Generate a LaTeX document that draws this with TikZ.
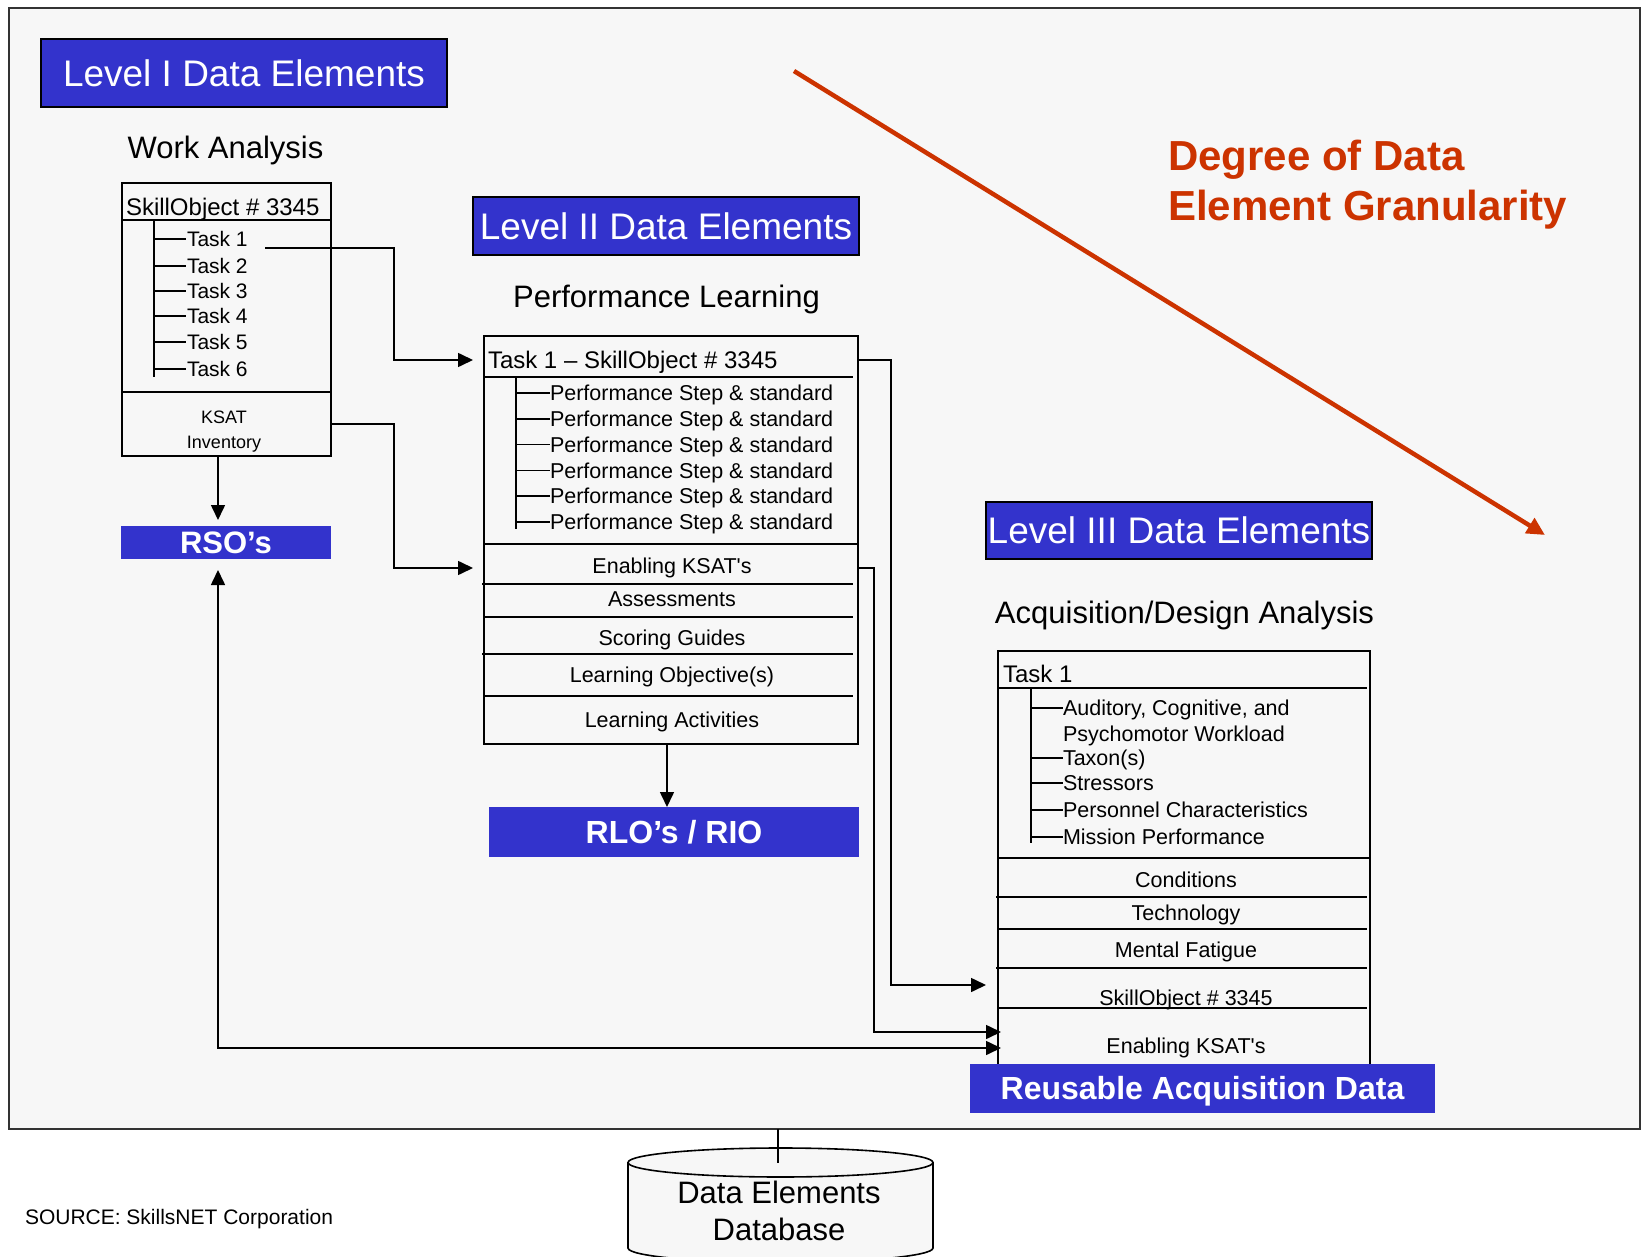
\documentclass[tikz,border=0pt]{standalone}
\usepackage{fontspec}
\setmainfont{Liberation Sans}
\usetikzlibrary{arrows.meta}
\definecolor{barblue}{RGB}{51,51,204}
\definecolor{granred}{RGB}{204,51,0}
\definecolor{panel}{RGB}{247,247,247}
\newcommand{\fsz}[1]{\fontsize{#1}{#1}\selectfont}

\begin{document}
\begin{tikzpicture}[x=1pt,y=-1pt,
  line width=1.6pt,
  every node/.style={inner sep=0pt, outer sep=0pt},
  levelbar/.style={draw=black, line width=1.8pt, fill=barblue, text=white,
    font=\fsz{37}, text height=26.5pt, text depth=0pt},
  outbar/.style={fill=barblue, text=white, font=\bfseries\fsz{32},
    text height=22.9pt, text depth=0pt},
  heading/.style={anchor=base, font=\fsz{31}},
  box/.style={draw=black, line width=1.8pt},
  hdr/.style={anchor=base west, font=\fsz{24}},
  item/.style={anchor=base west, font=\fsz{21.5}},
  row/.style={anchor=base, font=\fsz{21.5}},
  link/.style={line width=1.6pt, -{Triangle[length=15pt,width=14pt]}},
  twoway/.style={line width=1.6pt, {Triangle[length=15pt,width=14pt]}-{Triangle[length=15pt,width=14pt]}},
]
\useasboundingbox (0,0) rectangle (1642,1257);
\fill[white] (0,0) rectangle (1642,1257);

% outer panel
\node[draw=black!80, fill=panel, line width=1.6pt, minimum width=1631, minimum height=1121] (frame) at (824.5,568.5) {};

% ---------- Level I ----------
\node[levelbar, minimum width=406, minimum height=68] (lvI) at (244,73) {Level I Data Elements};
\node[heading] (wa) at (225.5,159) {Work Analysis};

\node[box, minimum width=209, minimum height=273] (so1) at (226.5,319.5) {};
\draw (so1.west |- 0,220) -- (so1.east |- 0,220);
\draw (so1.west |- 0,392) -- (so1.east |- 0,392);
\node[hdr] (so1h) at (126,216) {SkillObject \# 3345};
\draw (154,220) -- (154,377);
\foreach \y/\n in {239/1,266/2,291/3,316/4,342/5,369/6}{
  \draw (154,\y) -- (186,\y);
  \node[item, font=\fsz{21}] (t\n) at (187,\y+7.5) {Task \n};
}
\node[anchor=base, font=\fsz{18}] (ksat) at (224,423) {KSAT};
\node[anchor=base, font=\fsz{18}] (inv) at (224,448) {Inventory};

\node[outbar, font=\bfseries\fsz{31}, text height=22.2pt, minimum width=210, minimum height=33] (rso) at (226,542.5) {RSO’s};

% ---------- Level II ----------
\node[levelbar, minimum width=386, minimum height=58] (lvII) at (666,226) {Level II Data Elements};
\node[heading] (pl) at (666.5,308) {Performance Learning};

\node[box, minimum width=374, minimum height=408] (l2) at (671,540) {};
\node[hdr] (l2h) at (488,369) {Task 1 -- SkillObject \# 3345};
\draw (484,377) -- (853,377);
\draw (516,377) -- (516,529);
\foreach \y/\n in {393/1,418.8/2,444.6/3,470.4/4,496.2/5,522/6}{
  \draw (516,\y) -- (550,\y);
  \node[item] (ps\n) at (550,\y+7.7) {Performance Step \& standard};
}
\draw (484,544) -- (858,544);
\draw (482,584) -- (853,584);
\draw (484,617) -- (853,617);
\draw (482,654) -- (853,654);
\draw (484,696) -- (853,696);
\node[row] (eks2) at (672,573) {Enabling KSAT\textquotesingle s};
\node[row] (asm) at (672,606) {Assessments};
\node[row] (scg) at (672,645) {Scoring Guides};
\node[row] (lob) at (672,682) {Learning Objective(s)};
\node[row] (lac) at (672,727) {Learning Activities};

\node[outbar, minimum width=370, minimum height=50] (rlo) at (674,832) {RLO’s / RIO};

% ---------- Level III ----------
\node[levelbar, minimum width=386, minimum height=57] (lvIII) at (1179,530.5) {Level III Data Elements};
\node[heading] (ada) at (1184.5,623) {Acquisition/Design Analysis};

\node[box, minimum width=372, minimum height=418] (l3) at (1184,860) {};
\node[hdr] (l3h) at (1003,682) {Task 1};
\draw (998,688) -- (1367,688);
\draw (1031,688) -- (1031,843);
\foreach \y in {708,758,783,810,837}{ \draw (1031,\y) -- (1063,\y); }
\node[item] (acw) at (1063,715.7) {Auditory, Cognitive, and};
\node[item] (psw) at (1063,741.2) {Psychomotor Workload};
\node[item] (tax) at (1063,765.7) {Taxon(s)};
\node[item] (str) at (1063,790.7) {Stressors};
\node[item] (pch) at (1063,817.7) {Personnel Characteristics};
\node[item] (mpf) at (1063,844.7) {Mission Performance};
\draw (998,858) -- (1370,858);
\draw (996,897) -- (1367,897);
\draw (998,929) -- (1367,929);
\draw (996,968) -- (1367,968);
\draw (998,1008) -- (1367,1008);
\node[row] (cnd) at (1186,887) {Conditions};
\node[row] (tec) at (1186,920) {Technology};
\node[row] (mft) at (1186,957) {Mental Fatigue};
\node[row] (so3) at (1186,1005) {SkillObject \# 3345};
\node[row] (eks3) at (1186,1053) {Enabling KSAT\textquotesingle s};

\node[outbar, minimum width=465, minimum height=49] (rad) at (1202.5,1088.5) {Reusable Acquisition Data};

% ---------- connectors ----------
\coordinate (a1) at (265,248);
\coordinate (k1) at (394,360);
\draw[link, shorten >=11pt] (a1) -| (k1) -- (l2.west |- k1);

\coordinate (b1) at (394,424);
\coordinate (b2) at (394,568);
\draw[link, shorten >=11pt] (so1.east |- b1) -- (b1) -- (b2) -- (l2.west |- b2);

\coordinate (r0) at (218,0);
\draw[link, shorten >=6pt] (so1.south -| r0) -- (rso.north -| r0);

\coordinate (r1) at (667,0);
\draw[link] (l2.south -| r1) -- (rlo.north -| r1);

\coordinate (c1) at (891,360);
\coordinate (c1b) at (891,985);
\draw[link, shorten >=12pt] (l2.east |- c1) -- (c1) -- (c1b) -- (l3.west |- c1b);

\coordinate (c2) at (874,568);
\coordinate (c2b) at (874,1032);
\draw[link, shorten >=-3pt] (l2.east |- c2) -- (c2) -- (c2b) -- (l3.west |- c2b);

\coordinate (c3) at (218,1048);
\draw[twoway, shorten <=11pt, shorten >=-3pt] (rso.south -| c3) -- (c3) -- (l3.west |- c3);

% ---------- granularity arrow ----------
\coordinate (g0) at (794,71);
\coordinate (g1) at (1545,535);
\draw[granred, line width=4.5pt, -{Triangle[length=18pt,width=17pt]}] (g0) -- (g1);
\node[anchor=base west, font=\bfseries\fsz{42}, text=granred] (deg1) at (1168,171) {Degree of Data};
\node[anchor=base west, font=\bfseries\fsz{42}, text=granred] (deg2) at (1168,221) {Element Granularity};

% ---------- database ----------
\fill[panel] (628,1162.5) -- (628,1248) arc[start angle=180, end angle=360, x radius=152.5pt, y radius=14.5pt] -- (933,1162.5) -- cycle;
\draw (628,1162.5) -- (628,1248) arc[start angle=180, end angle=360, x radius=152.5pt, y radius=14.5pt] -- (933,1162.5);
\draw[fill=panel] (780.5,1162.5) ellipse[x radius=152.5pt, y radius=14.5pt];
\coordinate (dbtop) at (778,1162.5);
\draw (frame.south -| dbtop) -- (dbtop);
\node[anchor=base, font=\fsz{31}] (db1) at (779,1203) {Data Elements};
\node[anchor=base, font=\fsz{31}] (db2) at (779,1240) {Database};

\node[anchor=base west, font=\fsz{21}] (src) at (25,1224) {SOURCE: SkillsNET Corporation};
\end{tikzpicture}
\end{document}
